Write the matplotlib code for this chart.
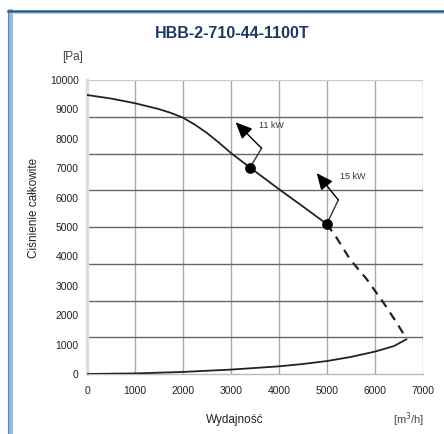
import numpy as np
import matplotlib.pyplot as plt
from matplotlib.lines import Line2D

# Dane
flow_solid = [0, 500, 1000, 1500, 1750, 2000, 2250, 2500, 2750, 3000, 3400, 4000, 4500, 5000]
press_solid = [9490, 9370, 9210, 9010, 8880, 8720, 8480, 8200, 7870, 7520, 7020, 6290, 5700, 5100]

flow_dash = [5000, 5210, 5485, 5830, 6180, 6460, 6660]
press_dash = [5100, 4620, 3900, 3230, 2430, 1740, 1200]

flow_sys = [0, 1000, 2000, 3000, 4000, 4500, 5000, 5500, 6000, 6400, 6660]
press_sys = [0, 20, 70, 150, 260, 340, 440, 580, 760, 950, 1180]

motor_labels = ["11 kW", "15 kW"]
motor_flow = [3400, 5000]
motor_press = [7020, 5100]
bend_flow = [3640, 5240]
bend_press = [7680, 5920]
head_flow = [3100, 4790]
head_press = [8560, 6830]

x_ticks = [0, 1000, 2000, 3000, 4000, 5000, 6000, 7000]
y_ticks = [0, 1000, 2000, 3000, 4000, 5000, 6000, 7000, 8000, 9000, 10000]
y_grid = [1250, 2500, 3750, 5000, 6250, 7500, 8750]

plt.rcParams['font.family'] = ['Liberation Sans', 'DejaVu Sans']

fig = plt.figure(figsize=(4.44, 4.34), dpi=100)
ax = fig.add_axes([87 / 444, 1 - 374 / 434, (422.7 - 87) / 444, (374 - 80) / 434])

# Siatka
for xv in x_ticks[1:]:
    ax.axvline(xv, color='#aaaaaa', lw=1.0, zorder=1)
for yv in y_grid:
    ax.axhline(yv, color='#666666', lw=1.0, zorder=1)
ax.axhline(10000, color='#cccccc', lw=1.0, zorder=1)

# Krzywe
ax.plot(flow_solid, press_solid, color='#222222', lw=1.3, zorder=3, solid_joinstyle='round')
ax.plot(flow_dash, press_dash, color='#222222', lw=1.6, ls=(0, (4, 3)), zorder=3)
ax.plot(flow_sys, press_sys, color='#222222', lw=1.3, zorder=3, solid_joinstyle='round')
ax.plot([flow_dash[-1], flow_sys[-1]], [press_dash[-1], press_sys[-1]], color='#222222', lw=1.3, zorder=3)

# Punkty silników i strzałki
ax.scatter(motor_flow, motor_press, s=45, color='black', zorder=5)
for lab, fx, fy, bx, by, hx, hy in zip(motor_labels, motor_flow, motor_press,
                                       bend_flow, bend_press, head_flow, head_press):
    ax.plot([fx, bx], [fy, by], color='#333333', lw=1.0, zorder=4)
    ax.annotate('', xy=(hx, hy), xytext=(bx, by),
                arrowprops=dict(arrowstyle='-|>,head_length=1.0,head_width=0.45',
                                color='black', lw=1.0, shrinkA=0, shrinkB=0), zorder=4)
    ax.text(hx + 480, hy - 120, lab, fontsize=6.5, color='#333333', va='center', ha='left')

ax.set_xlim(0, 7000)
ax.set_ylim(0, 10000)
ax.set_xticks(x_ticks)
ax.set_yticks(y_ticks)
ax.tick_params(axis='both', length=0, labelsize=7.5, colors='#222222')
ax.tick_params(axis='x', pad=9)
ax.tick_params(axis='y', pad=6)
for s in ['top', 'right']:
    ax.spines[s].set_visible(False)
ax.spines['left'].set_color('#dddddd')
ax.spines['left'].set_linewidth(2.5)
ax.spines['bottom'].set_color('#bbbbbb')
ax.spines['bottom'].set_linewidth(1.0)

# Teksty
fig.text(232 / 444, 1 - 34 / 434, 'HBB-2-710-44-1100T', ha='center', va='center',
         fontsize=11.5, fontweight='bold', color='#1f3a60')
fig.text(73 / 444, 1 - 57 / 434, '[Pa]', ha='center', va='center', fontsize=8.5, color='#444444')
fig.text(34 / 444, 1 - 208 / 434, 'Ciśnienie całkowite', ha='center', va='center',
         rotation=90, fontsize=8.5, color='#222222')
fig.text(235 / 444, 1 - 420 / 434, 'Wydajność', ha='center', va='center', fontsize=8.5, color='#222222')
fig.text(409 / 444, 1 - 420 / 434, '[m$^3$/h]', ha='center', va='center', fontsize=8, color='#444444')

# Ramka
fig.add_artist(Line2D([9.5 / 444, 9.5 / 444], [0, 1 - 11 / 434], transform=fig.transFigure,
                      color='#9ab8dc', lw=3.5))
fig.add_artist(Line2D([8 / 444, 8 / 444], [0, 1 - 11 / 434], transform=fig.transFigure,
                      color='#5d85b5', lw=0.8))
fig.add_artist(Line2D([8 / 444, 1], [1 - 11 / 434, 1 - 11 / 434], transform=fig.transFigure,
                      color='#2b5b8c', lw=1.8))
fig.add_artist(Line2D([11 / 444, 1], [1 - 13 / 434, 1 - 13 / 434], transform=fig.transFigure,
                      color='#b8cde6', lw=0.8))

fig.savefig('out.png', dpi=100)
